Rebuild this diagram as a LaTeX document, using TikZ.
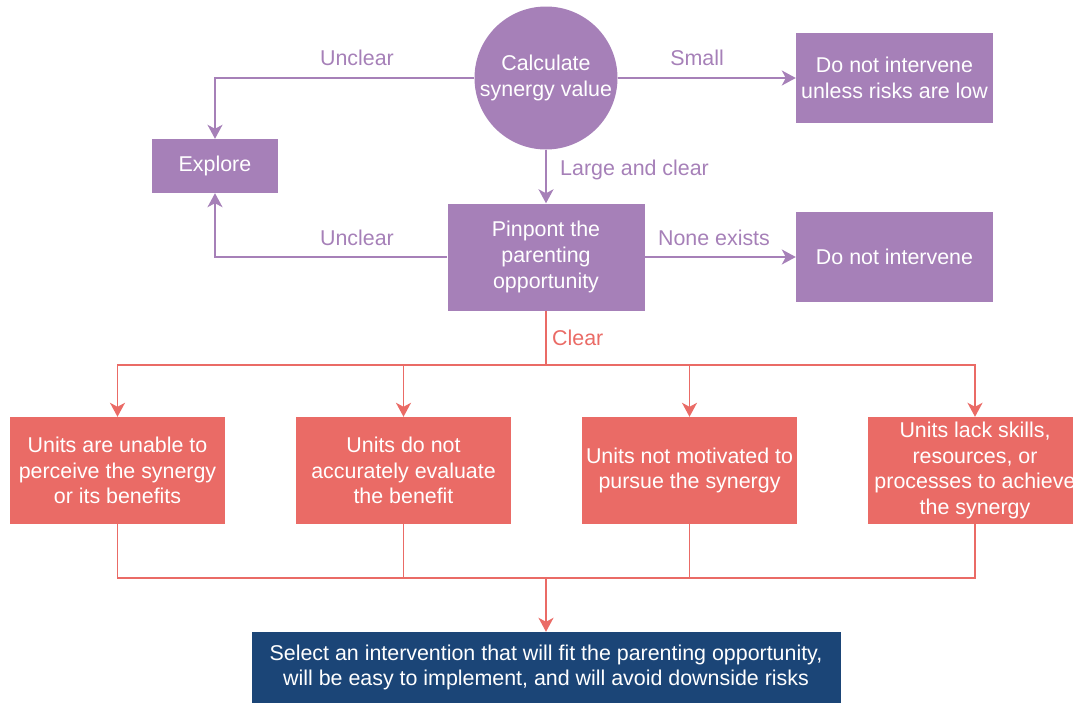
\documentclass[tikz,border=0pt]{standalone}
\usepackage{fontspec}
\setmainfont{Liberation Sans}
\usetikzlibrary{arrows.meta}
\definecolor{plum}{HTML}{A680B8}
\definecolor{coral}{HTML}{EA6B66}
\definecolor{navy}{HTML}{1B4577}
\tikzset{
  x=1pt, y=-1pt,
  txt/.style={font=\fontsize{21.4}{25.7}\selectfont, align=center, text=white},
  pbox/.style={txt, rectangle, fill=plum, inner sep=0pt},
  rbox/.style={txt, rectangle, fill=coral, inner sep=0pt, minimum width=215pt, minimum height=107pt},
  plink/.style={draw=plum, line width=1.9pt},
  rlink/.style={draw=coral, line width=1.9pt},
  tip/.style={-{Stealth[length=14pt,width=15pt,inset=4pt]}},
  plabel/.style={font=\fontsize{21.4}{25.7}\selectfont, text=plum, inner sep=0pt},
  rlabel/.style={font=\fontsize{21.4}{25.7}\selectfont, text=coral, inner sep=0pt},
}
\begin{document}
\begin{tikzpicture}
\useasboundingbox (0,0) rectangle (1073,704);

% decision and outcome nodes
\node[txt, circle, fill=plum, minimum size=143pt, inner sep=0pt] (calc) at (546,78) {Calculate\\synergy value};
\node[pbox, minimum width=126pt, minimum height=54pt] (explore) at (215,166) {Explore};
\node[pbox, minimum width=197pt, minimum height=90pt] (dnilow) at (894.5,78) {Do not intervene\\unless risks are low};
\node[pbox, minimum width=197pt, minimum height=107pt] (pin) at (546,257) {Pinpont the\\parenting\\opportunity};
\node[pbox, minimum width=197pt, minimum height=90pt] (dni) at (894.5,257) {Do not intervene};

% barriers
\node[rbox] (r1) at (117.5,470.5) {Units are unable to\\perceive the synergy\\or its benefits};
\node[rbox] (r2) at (403.5,470.5) {Units do not\\accurately evaluate\\the benefit};
\node[rbox] (r3) at (689.5,470.5) {Units not motivated to\\pursue the synergy};
\node[rbox] (r4) at (975,470.5) {Units lack skills,\\resources, or\\processes to achieve\\the synergy};

\node[txt, rectangle, fill=navy, inner sep=0pt, minimum width=589pt, minimum height=71pt] (final) at (546,667.5)
  {Select an intervention that will fit the parenting opportunity,\\will be easy to implement, and will avoid downside risks};

% purple connectors
\draw[plink, tip] (calc.west) -| (explore.north);
\draw[plink, tip] (calc.east) -- (dnilow.west);
\draw[plink, tip] (calc.south) -- (pin.north);
\draw[plink, tip] (pin.west) -| (explore.south);
\draw[plink, tip] (pin.east) -- (dni.west);

% red fan-out and merge
\coordinate (split) at (546,365);
\coordinate (merge) at (546,578);
\draw[rlink] (pin.south) -- (split);
\draw[rlink, tip] (split) -| (r1.north);
\draw[rlink, tip] (split) -| (r2.north);
\draw[rlink, tip] (split) -| (r3.north);
\draw[rlink, tip] (split) -| (r4.north);
\draw[rlink] (r1.south) |- (merge);
\draw[rlink] (r2.south) |- (merge);
\draw[rlink] (r3.south) |- (merge);
\draw[rlink] (r4.south) |- (merge);
\draw[rlink, tip] (merge) -- (final.north);

% edge labels
\node[plabel] (lunc1) at (357,58) {Unclear};
\node[plabel] (lsmall) at (697,58) {Small};
\node[plabel, anchor=west] (llarge) at (560,170) {Large and clear};
\node[plabel] (lunc2) at (357,238) {Unclear};
\node[plabel] (lnone) at (714,238) {None exists};
\node[rlabel, anchor=west] (lclear) at (552,338) {Clear};
\end{tikzpicture}
\end{document}
